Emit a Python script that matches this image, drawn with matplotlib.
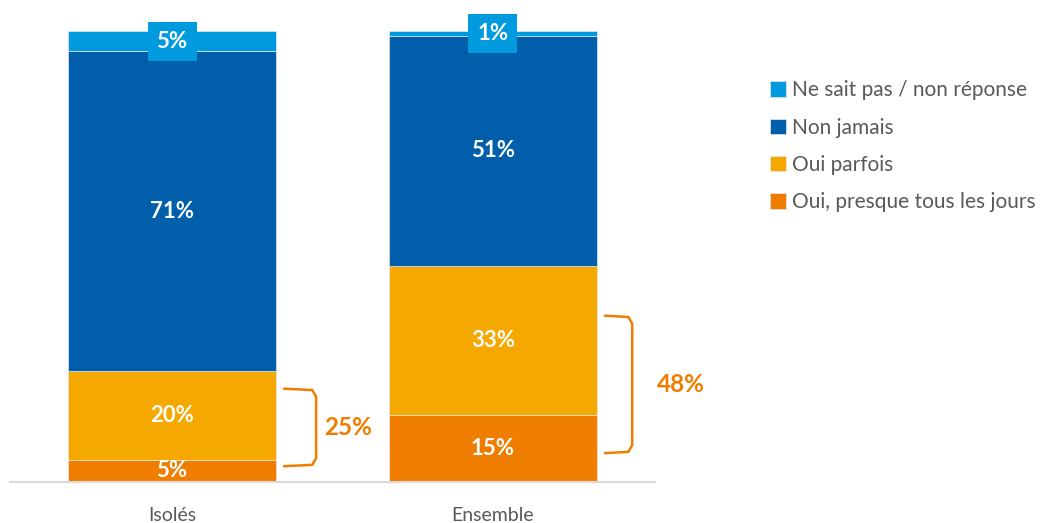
import matplotlib.pyplot as plt
import numpy as np

plt.rcParams['font.family'] = ['Lato', 'DejaVu Sans']

groups = ["Isolés", "Ensemble"]
series = ["Oui, presque tous les jours", "Oui parfois", "Non jamais", "Ne sait pas / non réponse"]
colors = ["#EE7D00", "#F5A800", "#005EAA", "#009ADE"]

# valeurs (%)
presque_tous = [4.9, 14.9]
parfois = [19.7, 33.0]
jamais = [70.9, 51.1]
nsp = [4.5, 1.0]
values = [presque_tous, parfois, jamais, nsp]

# étiquettes affichées
labels = [["5%", "15%"], ["20%", "33%"], ["71%", "51%"], ["5%", "1%"]]
totaux = ["25%", "48%"]
# étendue des accolades (bas, haut) en %
accolades = [(3.8, 20.4), (6.7, 36.6)]

fig = plt.figure(figsize=(10.51, 5.23), dpi=100)
ax = fig.add_axes([10 / 1051, 41 / 523, 645 / 1051, 472 / 523])

x = np.arange(len(groups))
width = 0.648
bottom = np.zeros(len(groups))
bars = []
for i, vals in enumerate(values):
    b = ax.bar(x, vals, width, bottom=bottom, color=colors[i],
               edgecolor="#E8E8E8", linewidth=0.5, label=series[i])
    bars.append(b)
    for j, v in enumerate(vals):
        yc = bottom[j] + v / 2
        if i == 3:
            ax.text(x[j], bottom[j] + v / 2, labels[i][j], ha="center", va="center",
                    color="white", fontsize=16, fontweight="bold",
                    bbox=dict(boxstyle="square,pad=0.4", fc=colors[i], ec="none"))
        else:
            ax.text(x[j], yc, labels[i][j], ha="center", va="center",
                    color="white", fontsize=16, fontweight="bold")
    bottom += np.array(vals)

# accolades + totaux
for j, (lo, hi) in enumerate(accolades):
    x0 = x[j] + width / 2 + 0.025
    x1 = x0 + (0.1 if j == 0 else 0.085)
    r = 0.012
    ax.plot([x0, x1 - r, x1, x1, x1 - r, x0],
            [hi + 0.3, hi, hi - 1.5, lo + 1.5, lo, lo - 0.3],
            color="#EE7D00", lw=1.8, solid_capstyle="round", solid_joinstyle="round")
    ax.text(x1 + (0.1 if j == 0 else 0.15), (lo + hi) / 2, totaux[j], ha="center", va="center",
            color="#EE7D00", fontsize=17.5, fontweight="bold")

ax.set_xlim(-0.505, 1.505)
ax.set_ylim(0, 104.7)
ax.set_yticks([])
ax.set_xticks(x)
ax.set_xticklabels(groups, fontsize=14, color="#595959")
ax.tick_params(axis="x", length=0, pad=18)
for s in ["top", "right", "left"]:
    ax.spines[s].set_visible(False)
ax.spines["bottom"].set_color("#D9D9D9")
ax.spines["bottom"].set_linewidth(1.5)

handles = bars[::-1]
fig.legend(handles, series[::-1], loc="upper left", bbox_to_anchor=(762 / 1051, 1 - 72 / 523),
           frameon=False, fontsize=15, labelcolor="#595959", handlelength=0.75, handleheight=0.75,
           handletextpad=0.3, labelspacing=0.83, borderaxespad=0)

fig.savefig("out.png", dpi=100)
